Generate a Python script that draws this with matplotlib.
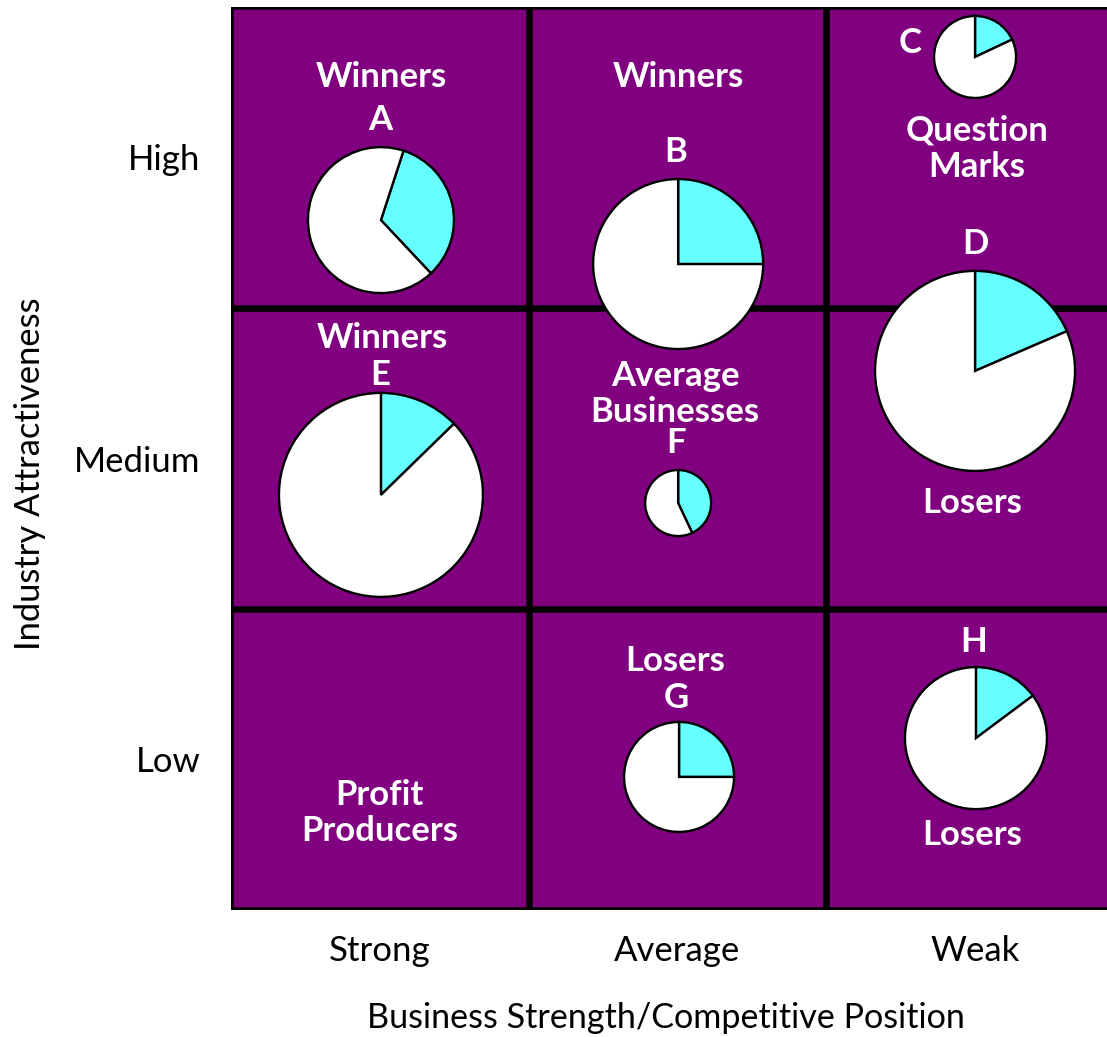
import matplotlib
matplotlib.use("Agg")
import matplotlib.pyplot as plt
from matplotlib.patches import Rectangle

# ---------------- data ----------------
strength_labels = ["Strong", "Average", "Weak"]          # x categories (left -> right)
attract_labels = ["Low", "Medium", "High"]                # y categories (bottom -> top)

businesses = ["A", "B", "C", "D", "E", "F", "G", "H"]
# positions on the 0..3 grid (x: strength column, y: attractiveness row)
biz_x = [0.504, 1.503, 2.501, 2.501, 0.504, 1.503, 1.506, 2.504]
biz_y = [2.292, 2.146, 2.834, 1.791, 1.379, 1.352, 0.442, 0.571]
biz_size = [73, 85, 41, 100, 102, 33, 55, 71]            # pie radius (market size)
biz_share = [0.33, 0.25, 0.18, 0.185, 0.127, 0.43, 0.25, 0.148]   # cyan share
biz_rot = [18, 0, 0, 0, 0, 0, 0, 0]                       # clockwise offset of share (deg)
biz_lab_x = [0.503, 1.496, 2.284, 2.501, 0.501, 1.496, 1.496, 2.497]
biz_lab_y = [2.624, 2.518, 2.880, 2.213, 1.777, 1.551, 0.704, 0.890]

cell_text = ["Winners", "Winners", "Question\nMarks", "Winners", "Average\nBusinesses",
             "Losers", "Profit\nProducers", "Losers", "Losers"]
cell_text_x = [0.504, 1.503, 2.508, 0.508, 1.493, 2.491, 0.500, 1.493, 2.491]
cell_text_y = [2.767, 2.767, 2.530, 1.900, 1.714, 1.352, 0.322, 0.827, 0.249]

PURPLE = "#800080"
CYAN = "#66FFFF"
CW, CH = 297.5, 301.0   # pixel size of a cell (keeps circles round)

FIG_W, FIG_H = 1107, 1037
fig = plt.figure(figsize=(FIG_W / 100, FIG_H / 100), dpi=100)
ax = fig.add_axes([231 / FIG_W, 127 / FIG_H, 3 * CW / FIG_W, 3 * CH / FIG_H])

# cells
for i in range(3):
    for j in range(3):
        ax.add_patch(Rectangle((i * CW, j * CH), CW, CH, facecolor=PURPLE,
                               edgecolor="none", zorder=0))
# grid lines
for k in range(4):
    lw_px = 6.5 if k in (1, 2) else 5.5
    ax.axvline(k * CW, color="black", lw=lw_px * 0.72, zorder=2)
    ax.axhline(k * CH, color="black", lw=lw_px * 0.72, zorder=2)

# pies
for x, y, r, s, rot in zip(biz_x, biz_y, biz_size, biz_share, biz_rot):
    ax.pie([s, 1 - s], colors=[CYAN, "white"], center=(x * CW, y * CH), radius=r,
           startangle=90 - rot, counterclock=False, frame=True,
           wedgeprops=dict(edgecolor="black", linewidth=1.7, zorder=5))

bold = dict(color="white", fontweight="bold", family="Lato", fontsize=25,
            ha="center", va="center", zorder=10)
for name, x, y in zip(businesses, biz_lab_x, biz_lab_y):
    ax.text(x * CW, y * CH, name, **bold)
for t, x, y in zip(cell_text, cell_text_x, cell_text_y):
    ax.text(x * CW, y * CH, t, linespacing=1.18, **bold)

ax.set_xlim(0, 3 * CW)
ax.set_ylim(0, 3 * CH)
ax.set_aspect("auto")
for sp in ax.spines.values():
    sp.set_visible(False)

ax.set_xticks([(i + 0.5) * CW for i in range(3)], strength_labels,
              family="Lato", fontsize=25)
ax.set_yticks([(j + 0.5) * CH for j in range(3)], attract_labels,
              family="Lato", fontsize=25)
ax.tick_params(axis="x", length=0, pad=18)
ax.tick_params(axis="y", length=0, pad=22)
ax.set_xlabel("Business Strength/Competitive Position", family="Lato", fontsize=24.6)
ax.set_ylabel("Industry Attractiveness", family="Lato", fontsize=24.8)
ax.xaxis.label.set_va("center")
ax.yaxis.label.set_va("center")
ax.xaxis.set_label_coords(0.487, -0.120)
ax.yaxis.set_label_coords(-0.225, 0.483)

fig.savefig("out.png", dpi=100)
